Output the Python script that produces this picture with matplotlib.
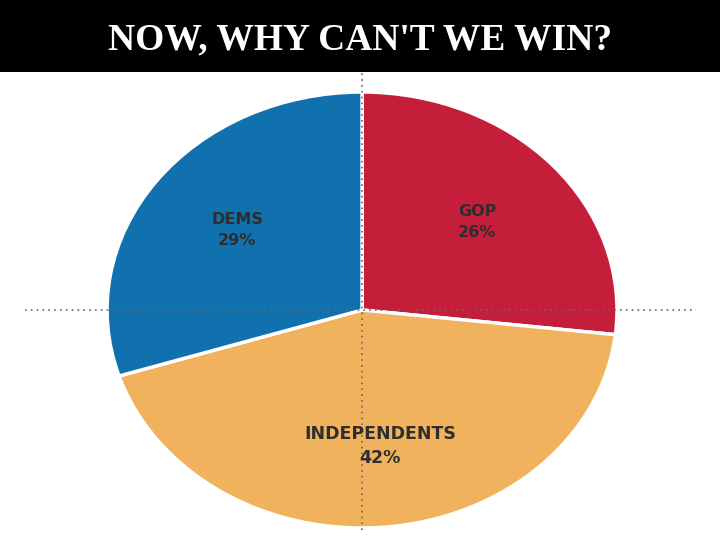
#Pie chart of party identification with a title banner

import matplotlib.pyplot as plt
from matplotlib.patches import Rectangle

#data
parties = ["GOP", "INDEPENDENTS", "DEMS"]
shares = [26, 42, 29]
colors = ["#C41E3A", "#F0B25C", "#1170AE"]

fig = plt.figure(figsize=(7.2, 5.4), dpi=100)
ax = fig.add_axes([0, 0, 1, 1])

#pie, clockwise from the top
wedges, _ = ax.pie(shares, colors=colors, startangle=90, counterclock=False,
                   wedgeprops=dict(edgecolor="white", linewidth=2.5))

#stretch the pie into an ellipse
ax.set_aspect("auto")
ax.set_xlim(-1.42, 1.404)
ax.set_ylim(-1.055, 1.422)
ax.axis("off")

#dotted crosshair
ax.plot([-1.32, 1.31], [0, 0], linestyle=(0, (1, 2.5)), color="#666666", lw=1.2, zorder=5)
ax.plot([0, 0], [-1.01, 1.1], linestyle=(0, (1, 2.5)), color="#666666", lw=1.2, zorder=5)

#labels
label_pos = [(0.451, 0.404), (0.071, -0.624), (-0.49, 0.367)]
label_size = [11.5, 12.5, 11.5]
for name, val, (x, y), fs in zip(parties, shares, label_pos, label_size):
    ax.text(x, y, "%s\n%d%%" % (name, val), ha="center", va="center",
            fontsize=fs, fontweight="bold", color="#2e2e2e",
            family="DejaVu Sans", linespacing=1.45, zorder=6)

#title banner
fig.patches.append(Rectangle((0, 468/540), 1, 72/540, transform=fig.transFigure,
                             facecolor="black", edgecolor="none", zorder=10))
fig.text(0.5, 1 - 40/540, "NOW, WHY CAN'T WE WIN?", ha="center", va="center",
         color="white", fontsize=27, fontweight="bold", family="Liberation Serif",
         zorder=11)

fig.savefig("out.png", dpi=100)
